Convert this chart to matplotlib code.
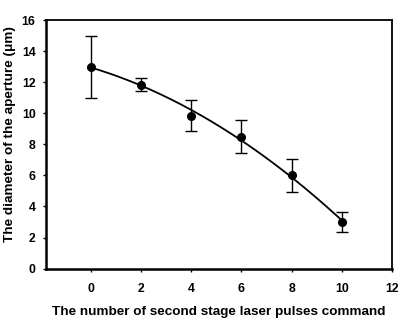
import numpy as np
import matplotlib
matplotlib.use("Agg")
import matplotlib.pyplot as plt

plt.rcParams['font.family'] = ['Liberation Sans', 'DejaVu Sans']
plt.rcParams['font.weight'] = 'bold'

## pulse count vs measured aperture diameter with std error bars
pulses = [0, 2, 4, 6, 8, 10]
diameter = [13.0, 11.85, 9.85, 8.5, 6.0, 3.0]
err = [2.0, 0.4, 1.0, 1.05, 1.08, 0.63]

## second order trend line through the measurements
coef = np.polyfit(pulses, diameter, 2)
xs = np.linspace(0, 10, 200)
ys = np.polyval(coef, xs)

fig = plt.figure(figsize=(4, 3.24), dpi=100)
ax = fig.add_axes([0.115, 0.171, 0.865, 0.767])

ax.plot(xs, ys, color='black', lw=1.3)
ax.errorbar(pulses, diameter, yerr=err, fmt='o', color='black', ms=5.5,
            elinewidth=1, capsize=4, capthick=1)

ax.set_xlim(-1.78, 12)
ax.set_ylim(0, 16)
ax.set_xticks(range(0, 13, 2))
ax.set_yticks(range(0, 17, 2))
ax.tick_params(labelsize=8.8, width=1, length=2.5)
ax.tick_params(axis='x', pad=8)
ax.tick_params(axis='y', pad=5)
ax.spines['left'].set_linewidth(1.8)
ax.spines['bottom'].set_linewidth(1.8)
ax.spines['top'].set_linewidth(1.3)
ax.spines['right'].set_linewidth(1.3)

ax.set_xlabel('The number of second stage laser pulses command', fontsize=9.7,
              fontweight='bold', labelpad=8)
ax.set_ylabel('The diameter of the aperture (\u03bcm)', fontsize=9.7,
              fontweight='bold')
ax.yaxis.set_label_coords(-0.088, 0.54)

fig.savefig('out.png', dpi=100)
